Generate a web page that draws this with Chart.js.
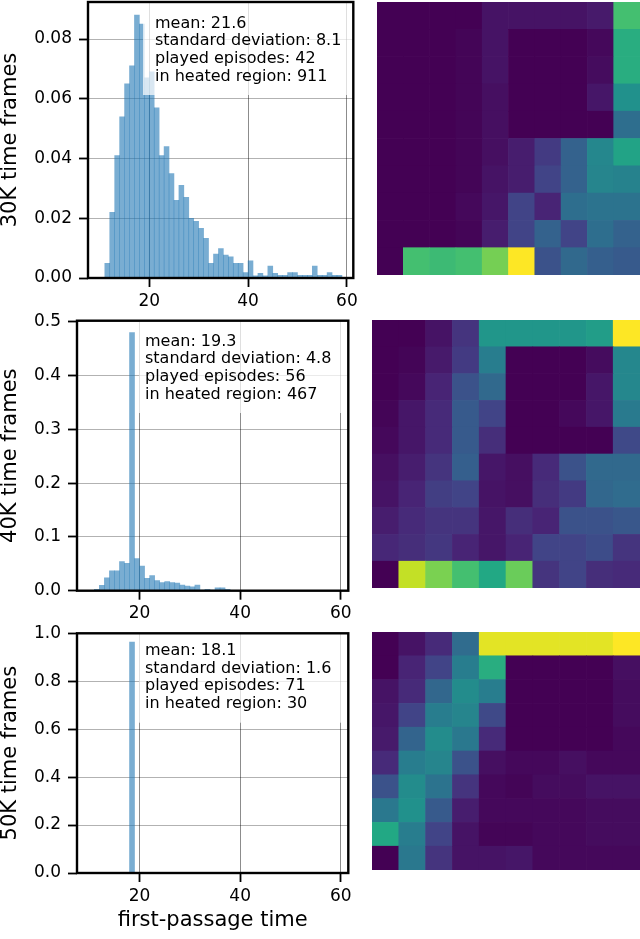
<!DOCTYPE html>
<html>
<head>
<meta charset="utf-8">
<script src="https://cdn.jsdelivr.net/npm/chart.js@4/dist/chart.umd.min.js"></script>
<style>
body { margin: 0; background: #fff; width: 640px; height: 939px; position: relative; overflow: hidden; }
canvas { position: absolute; }
</style>
</head>
<body>
<canvas id="hist30" width="362" height="318" style="left:0;top:0"></canvas>
<canvas id="hist40" width="362" height="324" style="left:0;top:306px"></canvas>
<canvas id="hist50" width="362" height="321" style="left:0;top:618px"></canvas>
<canvas id="heat30" width="263" height="273" style="left:377px;top:2px"></canvas>
<canvas id="heat40" width="268" height="268" style="left:372px;top:320px"></canvas>
<canvas id="heat50" width="268" height="238" style="left:372px;top:632px"></canvas>
<script>
// histogram bins (left edge, width 1) and normalised counts
var bins30 = [11,12,13,14,15,16,17,18,19,20,21,22,23,24,25,26,27,28,29,30,31,32,33,34,35,36,37,38,39,40,41,42,43,44,45,46,47,48,49,50,51,52,53,54,55,56,57,58];
var dens30 = [0.0049,0.022,0.041,0.054,0.065,0.071,0.088,0.085,0.067,0.069,0.057,0.041,0.044,0.035,0.026,0.031,0.027,0.020,0.019,0.0166,0.0133,0.0049,0.008,0.0099,0.0077,0.0071,0.0049,0.0049,0.0018,0.0058,0.0007,0.0016,0.0007,0.004,0.0016,0.0009,0.0009,0.0018,0.0018,0.0009,0.0009,0.0009,0.004,0.0009,0.0009,0.0018,0.0009,0.0009];

var bins40 = [11,12,13,14,15,16,17,18,19,20,21,22,23,24,25,26,27,28,29,30,31,32,33,34,35,36,37];
var dens40 = [0.0025,0.01,0.024,0.037,0.037,0.054,0.051,0.48,0.06,0.046,0.023,0.028,0.019,0.015,0.017,0.015,0.014,0.0105,0.0086,0.0074,0.0105,0.001,0.0025,0.001,0.0056,0.0056,0.0025];

var bins50 = [17,18,19];
var dens50 = [0, 0.964, 0];

var xTicks = [20, 40, 60];
var yTicks30 = [0, 0.02, 0.04, 0.06, 0.08];
var yTicks40 = [0, 0.1, 0.2, 0.3, 0.4, 0.5];
var yTicks50 = [0, 0.2, 0.4, 0.6, 0.8, 1.0];

var stats30 = ['mean: 21.6', 'standard deviation: 8.1', 'played episodes: 42', 'in heated region: 911'];
var stats40 = ['mean: 19.3', 'standard deviation: 4.8', 'played episodes: 56', 'in heated region: 467'];
var stats50 = ['mean: 18.1', 'standard deviation: 1.6', 'played episodes: 71', 'in heated region: 30'];

// heatmaps, rows top to bottom, normalised 0..1
var heat30 = [
  [0,0,0,0,0.05,0.05,0.05,0.05,0.07,0.7],
  [0,0,0,0.01,0.05,0,0,0,0.02,0.62],
  [0,0,0,0.01,0.05,0,0,0,0.03,0.62],
  [0,0,0,0.01,0.04,0,0,0,0.06,0.5],
  [0,0,0,0.01,0.04,0,0,0,0,0.36],
  [0,0,0,0.01,0.04,0.08,0.17,0.31,0.46,0.58],
  [0,0,0,0.01,0.05,0.08,0.2,0.31,0.45,0.44],
  [0,0,0,0.02,0.06,0.2,0.1,0.36,0.38,0.38],
  [0,0,0,0.01,0.08,0.2,0.31,0.2,0.36,0.31],
  [0,0.7,0.68,0.7,0.79,1.0,0.25,0.34,0.3,0.28]
];
var heat40 = [
  [0,0,0.05,0.15,0.52,0.52,0.52,0.52,0.55,1.0],
  [0,0.01,0.07,0.17,0.42,0,0,0,0.03,0.46],
  [0,0.02,0.1,0.25,0.34,0,0,0,0.06,0.46],
  [0.01,0.06,0.12,0.28,0.2,0,0,0.02,0.06,0.41],
  [0.02,0.06,0.12,0.28,0.13,0,0,0,0,0.22],
  [0.04,0.08,0.15,0.3,0.06,0.04,0.12,0.25,0.34,0.34],
  [0.05,0.1,0.18,0.2,0.05,0.04,0.13,0.17,0.33,0.35],
  [0.08,0.12,0.15,0.15,0.06,0.13,0.1,0.25,0.25,0.27],
  [0.11,0.13,0.16,0.1,0.06,0.1,0.2,0.2,0.23,0.15],
  [0,0.91,0.8,0.7,0.6,0.77,0.15,0.2,0.13,0.12]
];
var heat50 = [
  [0,0.05,0.12,0.35,0.96,0.96,0.96,0.96,0.96,1.0],
  [0,0.1,0.2,0.42,0.62,0,0,0,0,0.04],
  [0.05,0.12,0.33,0.48,0.42,0,0,0,0,0.03],
  [0.06,0.2,0.42,0.45,0.22,0,0,0,0,0.03],
  [0.07,0.32,0.48,0.4,0.12,0,0,0,0,0.02],
  [0.12,0.42,0.45,0.25,0.04,0.02,0.02,0.04,0.02,0.02],
  [0.25,0.48,0.38,0.15,0.02,0.01,0.03,0.03,0.05,0.05],
  [0.4,0.5,0.28,0.08,0.02,0.02,0.02,0.02,0.03,0.03],
  [0.6,0.42,0.2,0.05,0.01,0.01,0.02,0.02,0.03,0.03],
  [0,0.4,0.15,0.05,0.05,0.06,0.02,0.02,0.02,0.02]
];

Chart.defaults.font.family = '"DejaVu Sans"';
Chart.defaults.color = '#000';

var viridisStops = ['#440154','#482475','#414487','#355f8d','#2a788e','#21918c','#22a884','#44bf70','#7ad151','#bddf26','#fde725'];
function hexRgb(h) {
  return [parseInt(h.substr(1, 2), 16), parseInt(h.substr(3, 2), 16), parseInt(h.substr(5, 2), 16)];
}
function viridis(t) {
  t = Math.max(0, Math.min(1, t)) * 10;
  var i = Math.min(9, Math.floor(t)), f = t - i;
  var a = hexRgb(viridisStops[i]), b = hexRgb(viridisStops[i + 1]);
  return 'rgb(' + a.map(function (v, k) { return Math.round(v + (b[k] - v) * f); }).join(',') + ')';
}

// black box round the plot area
var framePlugin = {
  id: 'frame',
  afterDraw: function (chart) {
    var a = chart.chartArea, c = chart.ctx;
    c.save();
    c.strokeStyle = '#000';
    c.lineWidth = 2.4;
    c.strokeRect(a.left, a.top, a.right - a.left, a.bottom - a.top);
    c.restore();
  }
};

// stats text with a half see-through white box behind it
var statsPlugin = {
  id: 'stats',
  afterDatasetsDraw: function (chart, args, o) {
    var a = chart.chartArea, c = chart.ctx;
    c.save();
    c.fillStyle = 'rgba(255,255,255,0.72)';
    c.fillRect(o.boxLeft, a.top, a.right - o.boxLeft, o.boxBottom - a.top);
    c.fillStyle = '#000';
    c.font = '16px "DejaVu Sans"';
    c.textBaseline = 'alphabetic';
    o.lines.forEach(function (t, i) {
      c.fillText(t, o.textX, o.baseline + i * 17.7);
    });
    c.restore();
  }
};

function histChart(id, bins, dens, o) {
  return new Chart(document.getElementById(id), {
    type: 'bar',
    data: {
      datasets: [{
        data: bins.map(function (b, i) { return { x: b + 0.5, y: dens[i] }; }),
        backgroundColor: 'rgba(31,119,180,0.6)',
        borderWidth: 0,
        inflateAmount: 0.3,
        barPercentage: 1,
        categoryPercentage: 1
      }]
    },
    options: {
      responsive: false,
      animation: false,
      layout: { padding: { top: o.padTop, right: o.padRight, left: 0, bottom: 0 } },
      plugins: {
        legend: { display: false },
        tooltip: { enabled: false },
        stats: o.stats
      },
      scales: {
        x: {
          type: 'linear',
          min: o.xMin,
          max: o.xMax,
          offset: false,
          afterBuildTicks: function (s) { s.ticks = xTicks.map(function (v) { return { value: v }; }); },
          afterFit: function (s) { s.height = o.xHeight; s.paddingLeft = 0; s.paddingRight = 0; },
          grid: { color: 'rgba(0,0,0,0.45)', lineWidth: 1, tickColor: '#000', tickLength: 9, tickWidth: 1.8, offset: false },
          border: { display: false },
          ticks: { font: { size: 17 }, padding: 4, maxRotation: 0, autoSkip: false },
          title: o.xTitle ? { display: true, text: o.xTitle, font: { size: 21, lineHeight: 1 }, padding: { top: 0, bottom: 7.5 } } : { display: false }
        },
        y: {
          min: 0,
          max: o.yMax,
          afterBuildTicks: function (s) { s.ticks = o.yTicks.map(function (v) { return { value: v }; }); },
          afterFit: function (s) { s.width = o.yWidth; s.paddingTop = 0; s.paddingBottom = 0; },
          grid: { color: 'rgba(0,0,0,0.3)', lineWidth: 1, tickColor: '#000', tickLength: 9, tickWidth: 1.8 },
          border: { display: false },
          ticks: { font: { size: 17 }, padding: 7, callback: function (v) { return Number(v).toFixed(o.dec); } },
          title: { display: true, text: o.yTitle, font: { size: 21, lineHeight: 1 }, padding: 0 }
        }
      }
    },
    plugins: [statsPlugin, framePlugin]
  });
}

function heatChart(id, rows) {
  var datasets = [];
  for (var r = rows.length - 1; r >= 0; r--) {
    datasets.push({
      data: rows[r].map(function () { return 1; }),
      backgroundColor: rows[r].map(viridis),
      borderWidth: 0,
      barPercentage: 1,
      categoryPercentage: 1
    });
  }
  return new Chart(document.getElementById(id), {
    type: 'bar',
    data: { labels: rows[0].map(function (v, i) { return i; }), datasets: datasets },
    options: {
      responsive: false,
      animation: false,
      layout: { padding: 0 },
      plugins: { legend: { display: false }, tooltip: { enabled: false } },
      scales: {
        x: { display: false, stacked: true },
        y: { display: false, stacked: true, min: 0, max: rows.length }
      }
    }
  });
}

histChart('hist30', bins30, dens30, {
  padTop: 2, padRight: 8.7, xHeight: 40, yWidth: 88,
  xMin: 7.6, xMax: 61.3, yMax: 0.0924, yTicks: yTicks30, dec: 2,
  yTitle: '30K time frames',
  stats: { lines: stats30, textX: 155, baseline: 27.7, boxLeft: 143, boxBottom: 95 }
});
histChart('hist40', bins40, dens40, {
  padTop: 14.7, padRight: 13.7, xHeight: 39.3, yWidth: 77,
  xMin: 7.56, xMax: 61.5, yMax: 0.502, yTicks: yTicks40, dec: 1,
  yTitle: '40K time frames',
  stats: { lines: stats40, textX: 145, baseline: 39.7, boxLeft: 139, boxBottom: 107 }
});
histChart('hist50', bins50, dens50, {
  padTop: 15.3, padRight: 13.7, xHeight: 66, yWidth: 77,
  xMin: 7.56, xMax: 61.5, yMax: 1.0, yTicks: yTicks50, dec: 1,
  yTitle: '50K time frames', xTitle: 'first-passage time',
  stats: { lines: stats50, textX: 145, baseline: 37, boxLeft: 139, boxBottom: 104.7 }
});

heatChart('heat30', heat30);
heatChart('heat40', heat40);
heatChart('heat50', heat50);
</script>
</body>
</html>
